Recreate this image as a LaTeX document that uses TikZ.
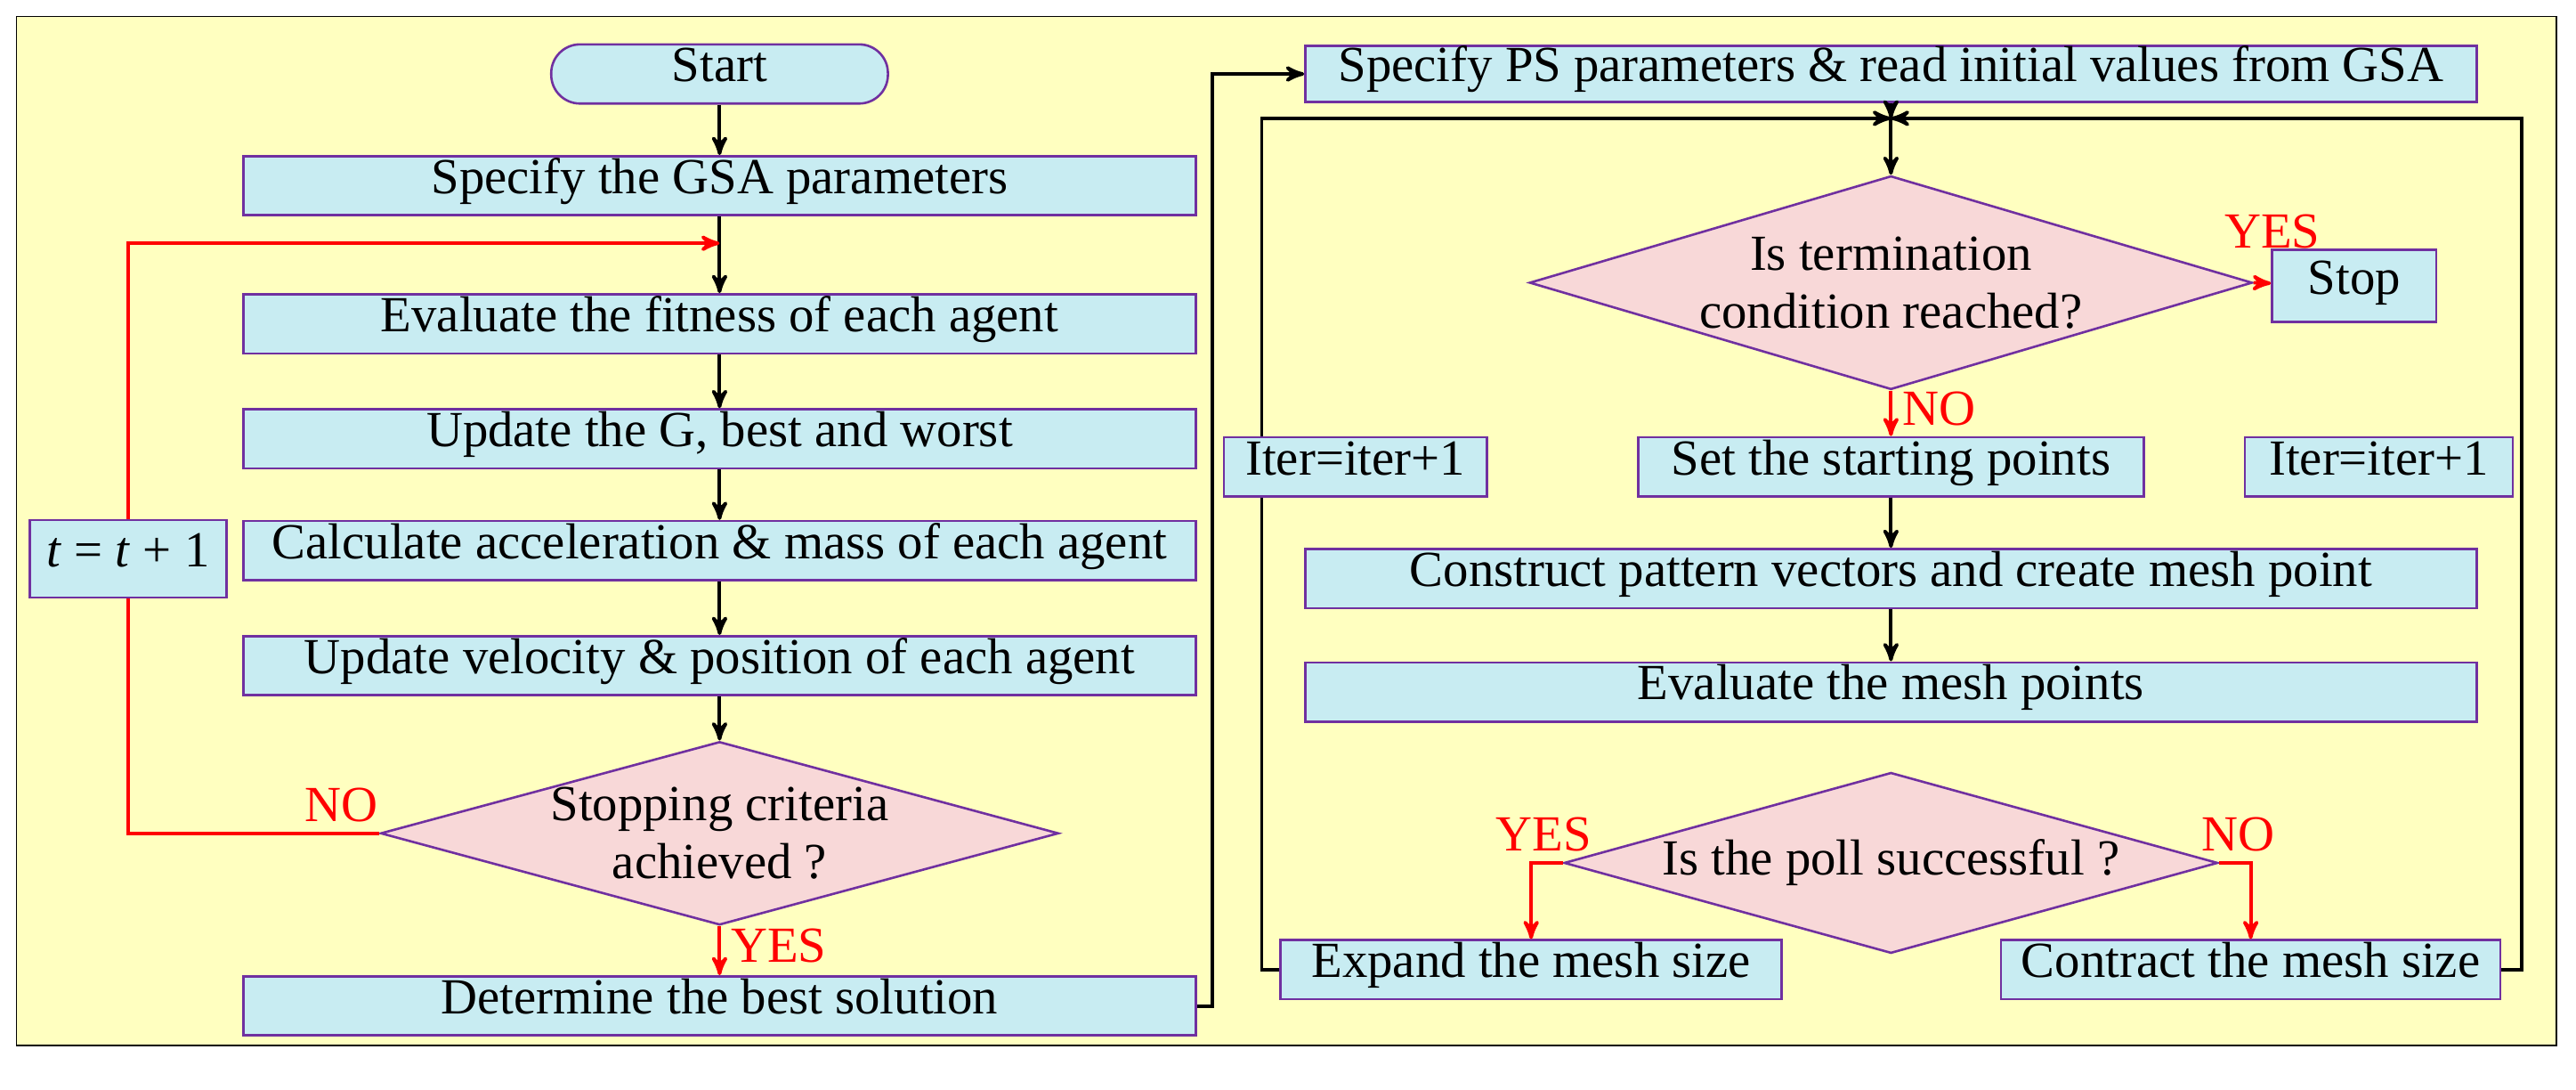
\documentclass[tikz,border=0pt]{standalone}
\usepackage{fontspec}
\setmainfont{Liberation Serif}
\usetikzlibrary{shapes.geometric,arrows}
\definecolor{bgyel}{RGB}{255,255,192}
\definecolor{boxcy}{RGB}{200,236,242}
\definecolor{boxpu}{RGB}{112,48,160}
\definecolor{dpink}{RGB}{248,216,216}
\begin{document}
\begin{tikzpicture}[x=0.02cm,y=-0.02cm,>=stealth',font=\fontsize{17.5}{20}\selectfont]
\tikzset{
    blk/.style={%
        draw=boxpu, thick, fill=boxcy,
        rectangle,
        minimum height=0.72cm,
        text height=1.6ex, text depth=0.4ex,
        inner sep=2pt
        },
    dec/.style={%
        draw=boxpu, thick, fill=dpink,
        diamond, aspect=3.7,
        inner sep=0pt, align=center
        },
    ar/.style={->, very thick},
    rar/.style={->, very thick, red},
    rl/.style={red, font=\fontsize{17.5}{20}\selectfont},
}
\useasboundingbox (0,0) rectangle (1568,663);
\draw[fill=bgyel] (10,10) rectangle (1556,636);
%%%LEFT COLUMN
\node[blk, rounded corners=0.35cm, minimum width=4.1cm] (start) at (438,45) {Start};
\node[blk, minimum width=11.6cm] (gsa) at (438,113) {Specify the GSA parameters};
\node[blk, minimum width=11.6cm] (fit) at (438,197) {Evaluate the fitness of each agent};
\node[blk, minimum width=11.6cm] (upg) at (438,267) {Update the G, best and worst};
\node[blk, minimum width=11.6cm] (acc) at (438,335) {Calculate acceleration \& mass of each agent};
\node[blk, minimum width=11.6cm] (vel) at (438,405) {Update velocity \& position of each agent};
\node[dec, minimum width=7.76cm, minimum height=2.14cm] (stp) at (438,507) {Stopping criteria\\achieved ?};
\node[blk, minimum width=11.6cm] (best) at (438,612) {Determine the best solution};
\node[blk, minimum width=2.4cm, minimum height=0.94cm] (tt) at (78,340) {\textit{t} = \textit{t} + 1};
\coordinate (jl) at (438,148);
%%%RIGHT COLUMN
\node[blk, minimum width=14.26cm, minimum height=0.68cm] (ps) at (1151,45) {Specify PS parameters \& read initial values from GSA};
\coordinate (jr) at (1151,72);
\node[dec, minimum width=7.96cm, minimum height=2.6cm] (term) at (1151,172) {Is termination\\condition reached?};
\node[blk, minimum width=2cm, minimum height=0.88cm] (stop) at (1433,174) {Stop};
\node[blk, minimum width=6.16cm] (spt) at (1151,284) {Set the starting points};
\node[blk, minimum width=14.26cm] (pat) at (1151,352) {Construct pattern vectors and create mesh point};
\node[blk, minimum width=14.26cm] (evm) at (1151,421) {Evaluate the mesh points};
\node[dec, minimum width=7.96cm, minimum height=2.2cm] (poll) at (1151,525) {Is the poll successful ?};
\node[blk, minimum width=6.1cm] (exp) at (932,590) {Expand the mesh size};
\node[blk, minimum width=6.08cm] (con) at (1370,590) {Contract the mesh size};
%%%CONNECTORS
\draw[ar] (start) -- (gsa);
\draw[ar] (gsa) -- (fit);
\draw[ar] (fit) -- (upg);
\draw[ar] (upg) -- (acc);
\draw[ar] (acc) -- (vel);
\draw[ar] (vel) -- (stp);
\draw[rar] (stp) -- node[rl, right, pos=0.4] {YES} (best);
\draw[very thick, red] (stp.west) -- node[rl, above, pos=0.15] {NO} (78,507) -- (tt);
\draw[rar] (tt) -- (78,148) -- (jl);
\draw[ar] (best.east) -- (738,612) -- (738,45) -- (ps);
\draw[ar] (ps) -- (jr);
\draw[ar] (jr) -- (term);
\draw[rar] (term.east) -- node[rl, above=8pt, pos=0.0, anchor=south west, xshift=-14pt] {YES} (stop);
\draw[rar] (term) -- node[rl, right, pos=0.4] {NO} (spt);
\draw[ar] (spt) -- (pat);
\draw[ar] (pat) -- (evm);
\draw[rar] (poll.west) -- node[rl, above, pos=0.6] {YES} (932,525) -- (exp);
\draw[rar] (poll.east) -- node[rl, above, pos=0.6] {NO} (1370,525) -- (con);
\draw[ar] (exp.west) -- (768,590) -- (768,72) -- (jr);
\draw[ar] (con.east) -- (1535,590) -- (1535,72) -- (jr);
\node[blk, minimum width=3.2cm] (itl) at (825,284) {Iter=iter+1};
\node[blk, minimum width=3.26cm] (itr) at (1448,284) {Iter=iter+1};
\end{tikzpicture}
\end{document}
